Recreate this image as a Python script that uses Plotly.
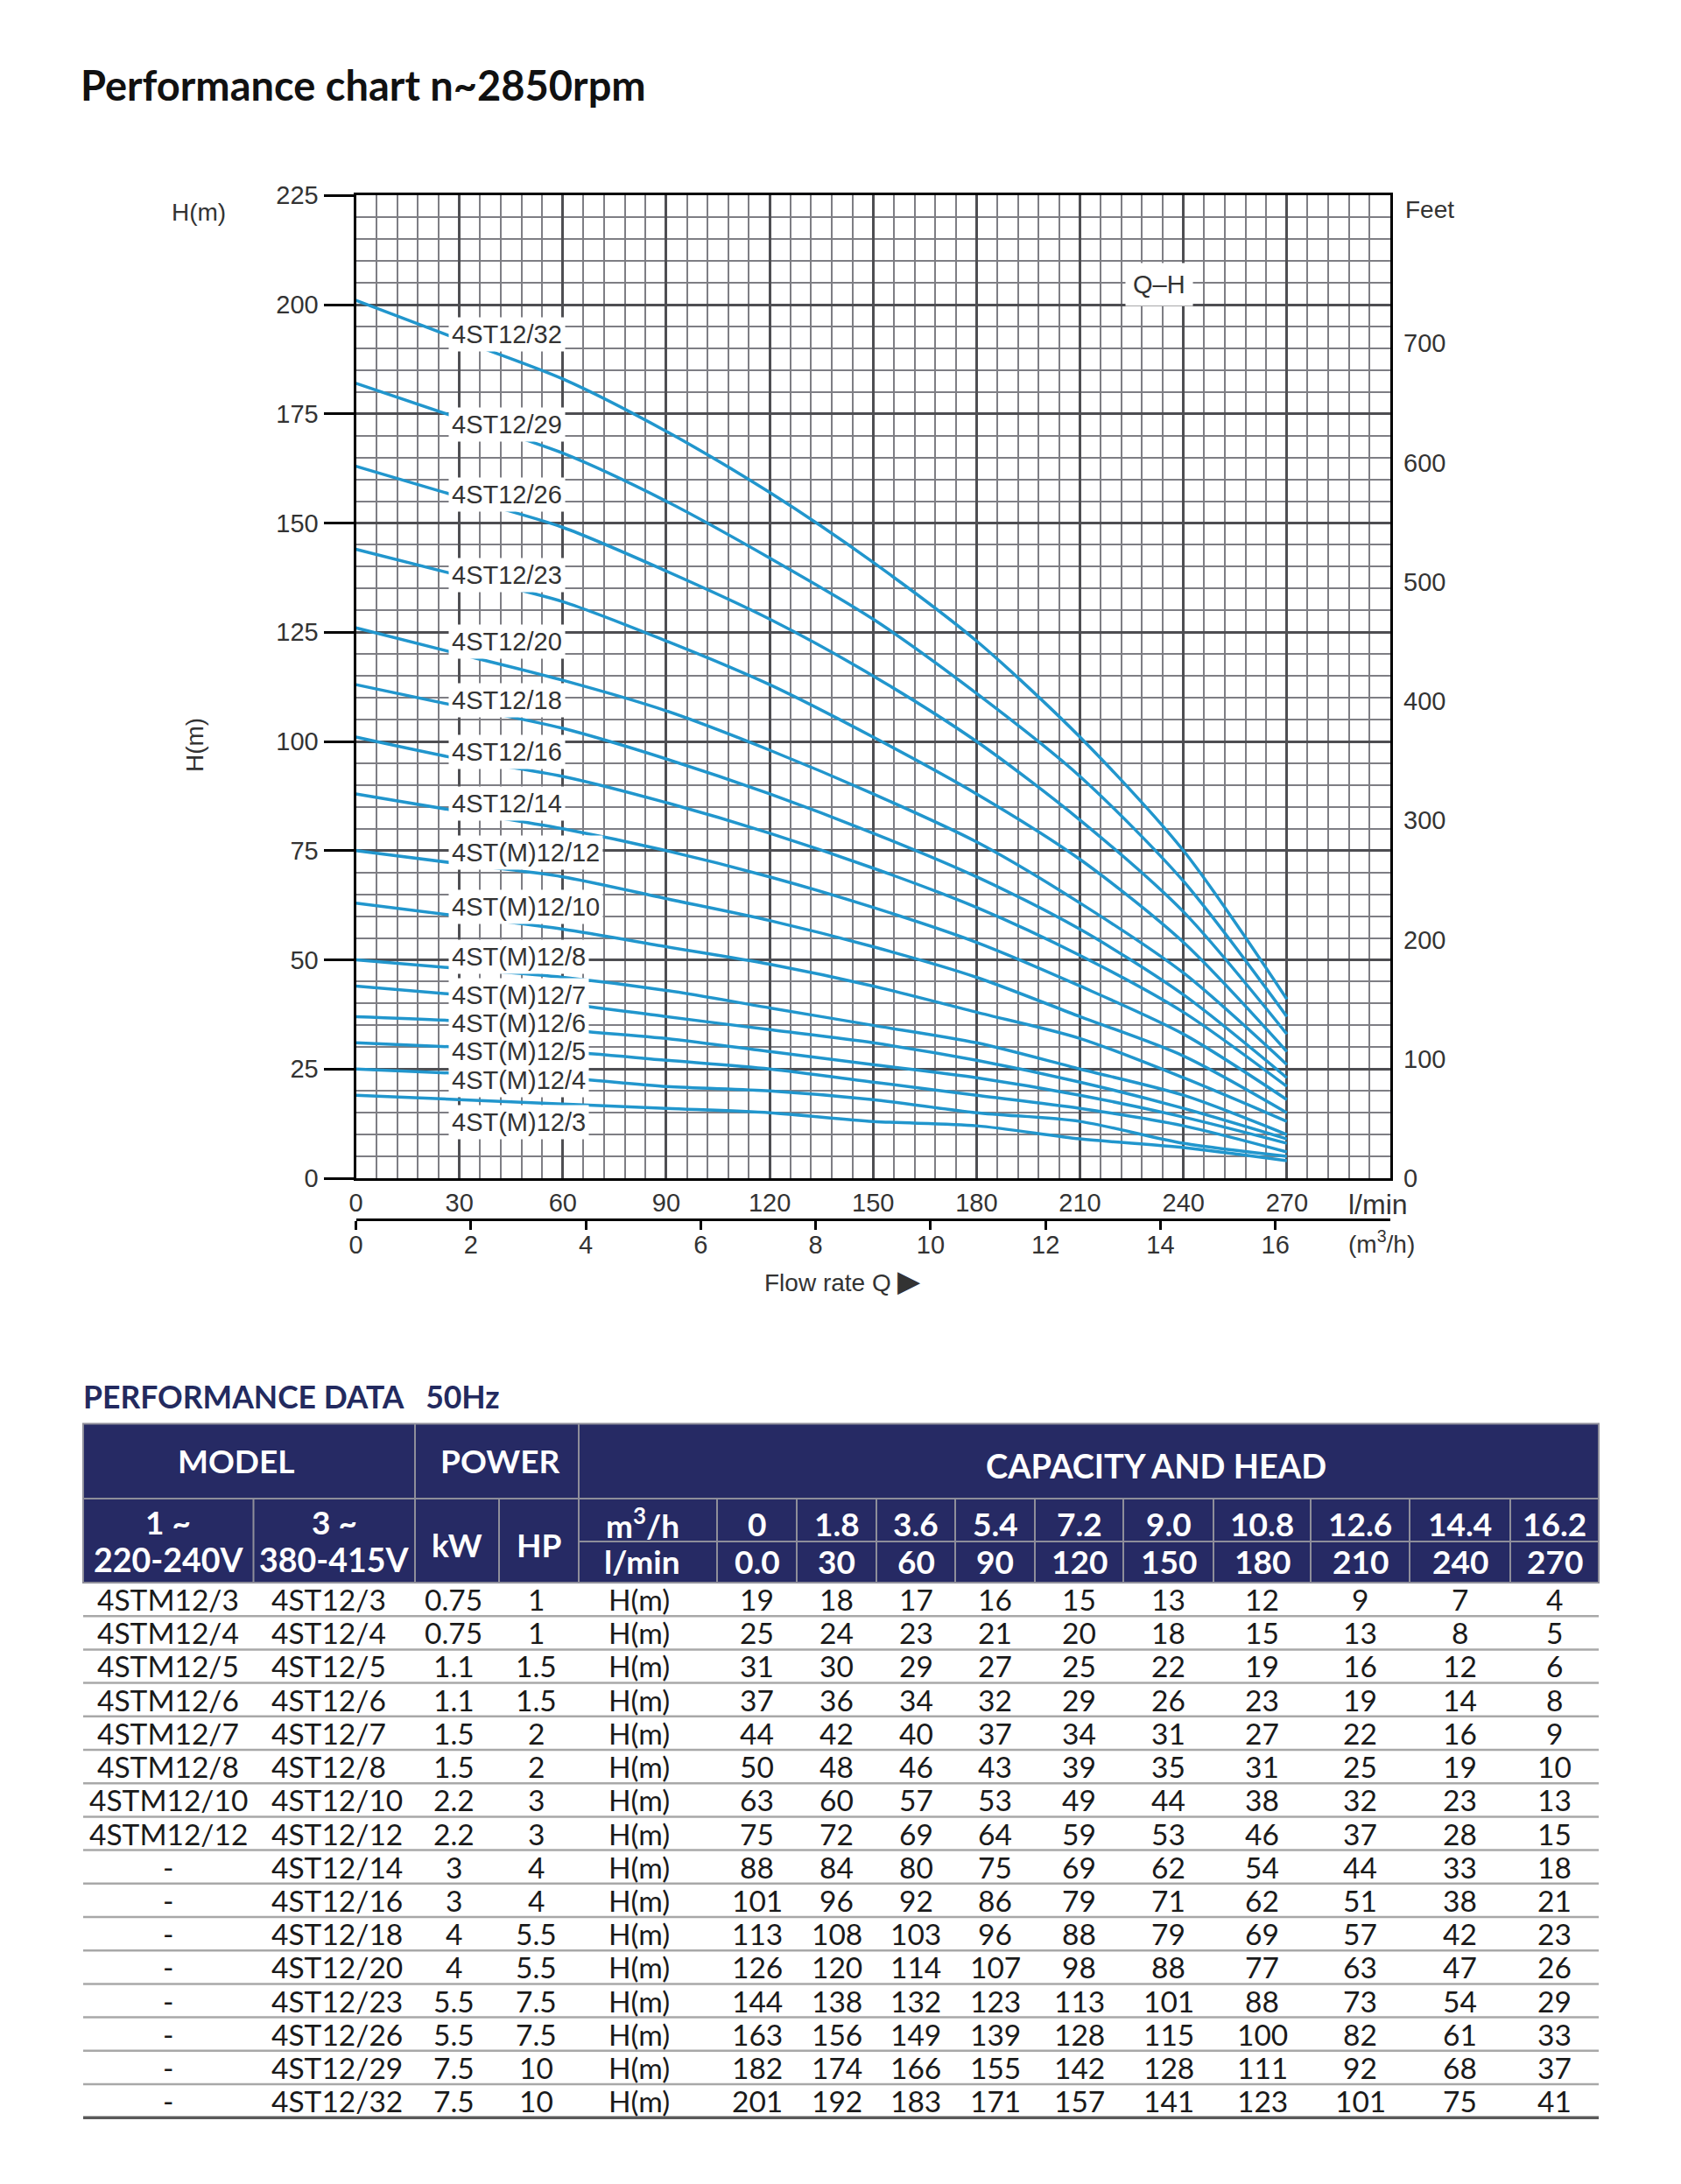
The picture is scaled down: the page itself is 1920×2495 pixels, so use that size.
import plotly.graph_objects as go

# ---------------- data ----------------
flow_lpm = [0, 30, 60, 90, 120, 150, 180, 210, 240, 270]
flow_lpm_labels = ["0.0", "30", "60", "90", "120", "150", "180", "210", "240", "270"]
flow_m3h_labels = ["0", "1.8", "3.6", "5.4", "7.2", "9.0", "10.8", "12.6", "14.4", "16.2"]

models_1ph = ["4STM12/3", "4STM12/4", "4STM12/5", "4STM12/6", "4STM12/7", "4STM12/8",
              "4STM12/10", "4STM12/12", "-", "-", "-", "-", "-", "-", "-", "-"]
models_3ph = ["4ST12/3", "4ST12/4", "4ST12/5", "4ST12/6", "4ST12/7", "4ST12/8",
              "4ST12/10", "4ST12/12", "4ST12/14", "4ST12/16", "4ST12/18", "4ST12/20",
              "4ST12/23", "4ST12/26", "4ST12/29", "4ST12/32"]
curve_names = ["4ST(M)12/3", "4ST(M)12/4", "4ST(M)12/5", "4ST(M)12/6", "4ST(M)12/7",
               "4ST(M)12/8", "4ST(M)12/10", "4ST(M)12/12", "4ST12/14", "4ST12/16",
               "4ST12/18", "4ST12/20", "4ST12/23", "4ST12/26", "4ST12/29", "4ST12/32"]
power_kw = ["0.75", "0.75", "1.1", "1.1", "1.5", "1.5", "2.2", "2.2", "3", "3", "4", "4",
            "5.5", "5.5", "7.5", "7.5"]
power_hp = ["1", "1", "1.5", "1.5", "2", "2", "3", "3", "4", "4", "5.5", "5.5",
            "7.5", "7.5", "10", "10"]
heads = [
    [19, 18, 17, 16, 15, 13, 12, 9, 7, 4],
    [25, 24, 23, 21, 20, 18, 15, 13, 8, 5],
    [31, 30, 29, 27, 25, 22, 19, 16, 12, 6],
    [37, 36, 34, 32, 29, 26, 23, 19, 14, 8],
    [44, 42, 40, 37, 34, 31, 27, 22, 16, 9],
    [50, 48, 46, 43, 39, 35, 31, 25, 19, 10],
    [63, 60, 57, 53, 49, 44, 38, 32, 23, 13],
    [75, 72, 69, 64, 59, 53, 46, 37, 28, 15],
    [88, 84, 80, 75, 69, 62, 54, 44, 33, 18],
    [101, 96, 92, 86, 79, 71, 62, 51, 38, 21],
    [113, 108, 103, 96, 88, 79, 69, 57, 42, 23],
    [126, 120, 114, 107, 98, 88, 77, 63, 47, 26],
    [144, 138, 132, 123, 113, 101, 88, 73, 54, 29],
    [163, 156, 149, 139, 128, 115, 100, 82, 61, 33],
    [182, 174, 166, 155, 142, 128, 111, 92, 68, 37],
    [201, 192, 183, 171, 157, 141, 123, 101, 75, 41],
]

x_ticks_lpm = [0, 30, 60, 90, 120, 150, 180, 210, 240, 270]
x_ticks_m3h = [0, 2, 4, 6, 8, 10, 12, 14, 16]
y_ticks_m = [0, 25, 50, 75, 100, 125, 150, 175, 200, 225]
y_ticks_ft = [0, 100, 200, 300, 400, 500, 600, 700]

# heights (m) at which the curve name labels sit
label_heads = [12.8, 22.4, 29.1, 35.4, 41.8, 50.7, 62.2, 74.6, 85.8, 97.6,
               109.4, 122.8, 138.1, 156.6, 172.5, 193.2]

# ---------------- layout constants ----------------
W, H = 1920, 2495
PL, PR, PT, PB = 406.5, 1588.0, 223.3, 1346.0
M3H_AXIS_Y = 1393.3


def px(x):
    return x / W


def py(y):
    return 1 - y / H


CF = "Liberation Sans, Arial, sans-serif"
TF = "Lato, Roboto, sans-serif"
CURVE_COLOR = "#2196cd"
NAVY = "#262a64"
MAJOR_GRID = "#4e4e52"
MINOR_GRID = "#7e7e84"

fig = go.Figure()

for name, h in zip(curve_names, heads):
    fig.add_trace(go.Scatter(
        x=flow_lpm, y=h, mode="lines", name=name,
        line=dict(color=CURVE_COLOR, width=3.5, shape="spline", smoothing=0.8),
        hoverinfo="skip", showlegend=False, xaxis="x", yaxis="y"))

# empty traces so the secondary scales (feet, m3/h) are drawn
fig.add_trace(go.Scatter(x=[], y=[], xaxis="x", yaxis="y2", showlegend=False, hoverinfo="skip"))
fig.add_trace(go.Scatter(x=[], y=[], xaxis="x3", yaxis="y", showlegend=False, hoverinfo="skip"))

annotations = []

# curve labels
for name, yv in zip(curve_names, label_heads):
    annotations.append(dict(
        x=26.8, y=yv, xref="x", yref="y", xanchor="left", yanchor="middle",
        text=name, showarrow=False, bgcolor="white", borderpad=3,
        font=dict(family=CF, size=29, color="#333333")))

annotations.append(dict(
    x=233.0, y=204.7, xref="x", yref="y", xanchor="center", yanchor="middle",
    text="Q\u2013H", showarrow=False, bgcolor="white", borderpad=8,
    font=dict(family=CF, size=29, color="#333333")))


def txt(x, y, text, size, family=CF, color="#333333", xanchor="center", angle=0):
    annotations.append(dict(
        x=px(x), y=py(y), xref="paper", yref="paper", xanchor=xanchor,
        yanchor="middle", text=text, showarrow=False, textangle=angle,
        font=dict(family=family, size=size, color=color)))


txt(90, 97, "<b>Performance chart n~2850rpm</b>", 47, family=TF, color="#111111", xanchor="left")
txt(227, 243, "H(m)", 28)
txt(223, 851, "H(m)", 28, angle=-90)
txt(1603, 240, "Feet", 28, xanchor="left")
txt(1574, 1376, "l/min", 32)
txt(1578, 1419, "(m<sup>3</sup>/h)", 28)
txt(962, 1463, "Flow rate Q <span style='font-size:34px'>\u25B6</span>", 28)

# ---------------- table ----------------
col_edges = [95, 289.5, 474, 570, 661, 819, 910, 1001, 1091, 1182, 1283, 1386, 1497, 1610, 1725, 1826]
T_TOP, R1, R2, HB = 1626.5, 1712.0, 1761.0, 1808.0
ROW_H = 38.2
HFONT = dict(family=TF, size=37, color="white")
DFONT = dict(family=TF, size=33.5, color="#1a1a1a")

txt(93, 1595, "<b>PERFORMANCE DATA&nbsp;&nbsp;&nbsp;50Hz</b>", 35.5, family=TF, color="#232a5f", xanchor="left")

shapes = []


def line(x0, y0, x1, y1, color, width):
    shapes.append(dict(type="line", xref="paper", yref="paper",
                       x0=px(x0), y0=py(y0), x1=px(x1), y1=py(y1),
                       line=dict(color=color, width=width)))


shapes.append(dict(type="rect", xref="paper", yref="paper",
                   x0=px(col_edges[0]), x1=px(col_edges[-1]), y0=py(T_TOP), y1=py(HB),
                   fillcolor=NAVY, line=dict(color="#8e8e9a", width=2), layer="above"))
BC = "#8e8e9a"
line(col_edges[0], R1, col_edges[-1], R1, BC, 2)
line(col_edges[4], R2, col_edges[-1], R2, BC, 2)
for ci in (2, 4):
    line(col_edges[ci], T_TOP, col_edges[ci], HB, BC, 2)
for ci in [1, 3] + list(range(5, 15)):
    line(col_edges[ci], R1, col_edges[ci], HB, BC, 2)

n_rows = len(models_3ph)
for k in range(1, n_rows + 1):
    yk = HB + ROW_H * k
    if k == n_rows:
        line(col_edges[0], yk, col_edges[-1], yk, "#5a5a5a", 3.5)
    else:
        line(col_edges[0], yk, col_edges[-1], yk, "#a8a8a8", 2.5)


def cell(x, y, text, font, xanchor="center"):
    annotations.append(dict(
        x=px(x), y=py(y), xref="paper", yref="paper", xanchor=xanchor, yanchor="middle",
        text=text, showarrow=False, font=font))


def cc(i):
    return (col_edges[i] + col_edges[i + 1]) / 2


cell(270, 1668, "<b>MODEL</b>", HFONT)
cell(571, 1668, "<b>POWER</b>", HFONT)
cell(1320, 1674, "<b>CAPACITY AND HEAD</b>", dict(HFONT, size=38))
cell(cc(0), 1738, "<b>1 ~</b>", HFONT)
cell(cc(0), 1781, "<b>220-240V</b>", dict(HFONT, size=37.5))
cell(cc(1), 1738, "<b>3 ~</b>", HFONT)
cell(cc(1), 1781, "<b>380-415V</b>", dict(HFONT, size=37.5))
cell(cc(2), 1764, "<b>kW</b>", HFONT)
cell(cc(3), 1764, "<b>HP</b>", HFONT)
cell(cc(4) - 6, 1740, "<b>m<sup>3</sup>/h</b>", HFONT)
cell(cc(4) - 7, 1783, "<b>l/min</b>", HFONT)
for j in range(len(flow_lpm)):
    cell(cc(5 + j), 1740, "<b>%s</b>" % flow_m3h_labels[j], HFONT)
    cell(cc(5 + j), 1783, "<b>%s</b>" % flow_lpm_labels[j], HFONT)

for r in range(n_rows):
    yc = HB + ROW_H * (r + 0.5)
    cell(cc(0), yc, models_1ph[r], DFONT)
    cell(col_edges[1] + 18, yc, models_3ph[r], DFONT, xanchor="left")
    cell(cc(2) - 4, yc, power_kw[r], DFONT)
    cell(cc(3) - 3, yc, power_hp[r], DFONT)
    cell(cc(4) - 10, yc, "H(m)", DFONT)
    for j, v in enumerate(heads[r]):
        cell(cc(5 + j), yc, str(v), DFONT)

# ---------------- axes ----------------
xdom = [px(PL), px(PR)]
ydom = [py(PB), py(PT)]
TICKFONT = dict(family=CF, size=29, color="#333333")

fig.update_layout(
    width=W, height=H,
    margin=dict(l=0, r=0, t=0, b=0, pad=0, autoexpand=False),
    paper_bgcolor="white", plot_bgcolor="white",
    font=dict(family=CF, size=28, color="#333333"),
    showlegend=False,
    xaxis=dict(
        domain=xdom, range=[0, 300], tickmode="array", tickvals=x_ticks_lpm,
        ticktext=[str(v) for v in x_ticks_lpm], ticks="", ticklabelstandoff=0,
        showline=True, linecolor="black", linewidth=3, mirror=True,
        showgrid=True, gridcolor=MAJOR_GRID, gridwidth=2.8, zeroline=False,
        minor=dict(tick0=0, dtick=6, showgrid=True, gridcolor=MINOR_GRID, gridwidth=2),
        tickfont=TICKFONT, anchor="y", fixedrange=True, automargin=False),
    yaxis=dict(
        domain=ydom, range=[0, 225], tickmode="array", tickvals=y_ticks_m,
        ticks="outside", ticklen=34, tickwidth=3, tickcolor="black",
        showline=True, linecolor="black", linewidth=3, mirror=True,
        showgrid=True, gridcolor=MAJOR_GRID, gridwidth=2.8, zeroline=False,
        minor=dict(tick0=0, dtick=5, showgrid=True, gridcolor=MINOR_GRID, gridwidth=2),
        tickfont=TICKFONT, anchor="x", fixedrange=True, automargin=False),
    yaxis2=dict(
        overlaying="y", side="right", anchor="x", range=[0, 824], tickmode="array",
        tickvals=y_ticks_ft, ticks="", ticklabelstandoff=14, showgrid=False,
        zeroline=False, showline=False,
        tickfont=TICKFONT, fixedrange=True, automargin=False),
    xaxis3=dict(
        overlaying="x", anchor="free", position=py(M3H_AXIS_Y), domain=xdom,
        range=[0, 18], tickmode="array", tickvals=x_ticks_m3h,
        ticks="outside", ticklen=10, tickwidth=2.5, tickcolor="black",
        ticklabelstandoff=-8,
        showline=True, linecolor="black", linewidth=2.5, showgrid=False, zeroline=False,
        tickfont=TICKFONT, side="bottom", fixedrange=True, automargin=False),
    annotations=annotations,
    shapes=shapes,
)

fig.write_html("out.html", config={"displayModeBar": False},
               post_script="document.body.style.margin='0px';")
